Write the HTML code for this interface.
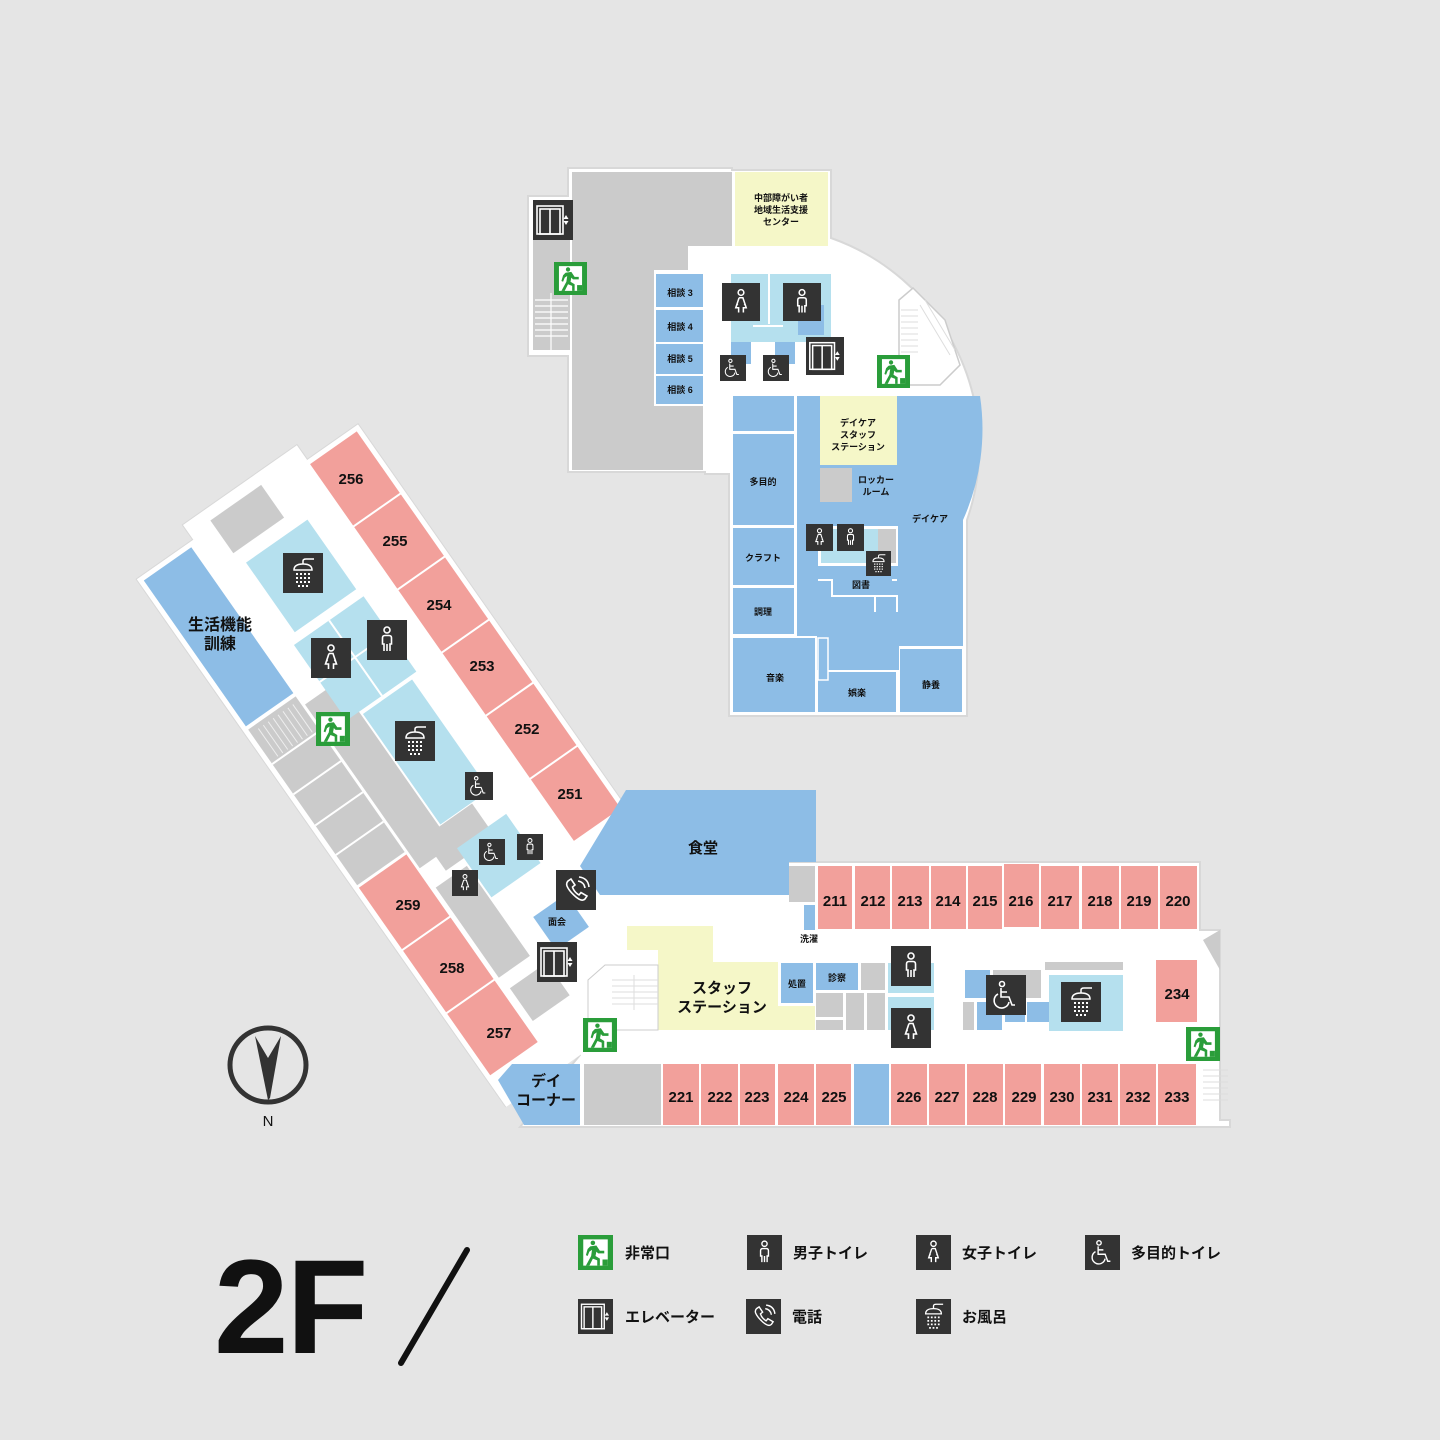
<!DOCTYPE html>
<html><head><meta charset="utf-8"><style>
html,body{margin:0;padding:0;background:#e5e5e5}
svg{display:block}
text{font-family:"Liberation Sans","Noto Sans CJK JP",sans-serif;font-weight:bold;fill:#111}
.n{font-size:15px;text-anchor:middle}
.s{font-size:9px;text-anchor:middle}
.l{font-size:15px}
</style></head><body>
<svg width="1440" height="1440" viewBox="0 0 1440 1440" xmlns="http://www.w3.org/2000/svg">
<defs>
<symbol id="m" viewBox="0 0 40 40"><rect width="40" height="40" fill="#333"/><g fill="none" stroke="#fff" stroke-width="1.6"><circle cx="20" cy="10" r="3"/><path d="M17 31V24H15.5V18Q15.5 15.5 18 15.5H22Q24.5 15.5 24.5 18V24H23V31M20 24V31"/></g></symbol>
<symbol id="w" viewBox="0 0 40 40"><rect width="40" height="40" fill="#333"/><g fill="none" stroke="#fff" stroke-width="1.6"><circle cx="20" cy="10" r="3"/><path d="M18 15.5H22L25.5 26H22.5V31M17.5 31V26H14.5L18 15.5M16.5 22L15 24M23.5 22L25 24"/></g></symbol>
<symbol id="wc" viewBox="0 0 40 40"><rect width="40" height="40" fill="#333"/><g fill="none" stroke="#fff" stroke-width="1.6"><circle cx="16" cy="9" r="2.5"/><path d="M15 13V22H23L26 30H29M15 17H21"/><path d="M12 19A7.5 7.5 0 1 0 23 27"/></g></symbol>
<symbol id="sh" viewBox="0 0 40 40"><rect width="40" height="40" fill="#333"/><g fill="none" stroke="#fff" stroke-width="1.5"><path d="M11 17Q11 11 20 11Q29 11 29 17Z"/><path d="M20 11V8Q20 6 23 6H31"/></g><g fill="#fff"><rect x="13" y="20" width="2" height="2"/><rect x="17" y="20" width="2" height="2"/><rect x="21" y="20" width="2" height="2"/><rect x="25" y="20" width="2" height="2"/><rect x="13" y="24" width="2" height="2"/><rect x="17" y="24" width="2" height="2"/><rect x="21" y="24" width="2" height="2"/><rect x="25" y="24" width="2" height="2"/><rect x="13" y="28" width="2" height="2"/><rect x="17" y="28" width="2" height="2"/><rect x="21" y="28" width="2" height="2"/><rect x="25" y="28" width="2" height="2"/><rect x="15" y="32" width="2" height="2"/><rect x="19" y="32" width="2" height="2"/><rect x="23" y="32" width="2" height="2"/></g></symbol>
<symbol id="el" viewBox="0 0 40 40"><rect width="40" height="40" fill="#333"/><g fill="none" stroke="#fff" stroke-width="1.6"><rect x="4" y="6" width="26" height="28"/><rect x="7" y="9" width="20" height="25"/><path d="M17 9V34"/></g><path d="M33 15L35.5 19H30.5ZM33 25L35.5 21H30.5Z" fill="#fff"/></symbol>
<symbol id="tel" viewBox="0 0 40 40"><rect width="40" height="40" fill="#333"/><g fill="none" stroke="#fff" stroke-width="1.6"><path d="M12 11L15 9L19 15L16.5 17Q18 22 23 25L25 22.5L31 26L29 29Q26 32 20 27Q13 21 11 16Q10 13 12 11Z"/><path d="M22 11Q28 12 29 18M23 7Q32 8 33 17"/></g></symbol>
<symbol id="ex" viewBox="0 0 40 40"><rect width="40" height="40" fill="#2a9d3a"/><rect x="6" y="5" width="28" height="30" fill="#fff"/><g fill="#2a9d3a"><circle cx="17" cy="9" r="2.6"/><path d="M14 13L21 12L25 18L30 18L30 21L23 21L21 19L20 24L25 27L25 35L22 35L22 29L17 27L13 35L9 35L15 24L16 17L13 19L11 24L9 23L11 16Z"/><rect x="28" y="28" width="6" height="7"/></g></symbol>
<clipPath id="cw"><rect x="0" y="0" width="1440" height="1128"/></clipPath>
</defs>

<rect width="1440" height="1440" fill="#e5e5e5"/>

<!-- ===== TOP BUILDING ===== -->
<path d="M568 168H732V170H831V238 A222 222 0 0 1 967 520V716H729V474H705V472H568V356H528V196H568Z" fill="#fff" stroke="#d8d8d8" stroke-width="2"/>
<path d="M572 172H732V246H688V270H654V404H703V470H572Z" fill="#cbcbcb"/>
<rect x="533" y="240" width="37" height="110" fill="#cbcbcb"/>
<g stroke="#fff" stroke-width="1.2"><path d="M535 300H568M535 306H568M535 312H568M535 318H568M535 324H568M535 330H568M535 336H568M551 293V350"/></g>
<rect x="735" y="172" width="93" height="74" fill="#f5f7c8"/>
<text class="s" x="781" y="201">中部障がい者</text><text class="s" x="781" y="213">地域生活支援</text><text class="s" x="781" y="225">センター</text>
<rect x="654" y="272" width="51" height="134" fill="#fff"/>
<g fill="#8dbde6"><rect x="656" y="274" width="47" height="33"/><rect x="656" y="310" width="47" height="32"/><rect x="656" y="344" width="47" height="30"/><rect x="656" y="376" width="47" height="28"/></g>
<text class="s" x="680" y="296">相談 3</text><text class="s" x="680" y="330">相談 4</text><text class="s" x="680" y="362">相談 5</text><text class="s" x="680" y="393">相談 6</text>
<rect x="731" y="274" width="100" height="68" fill="#b5e0ee"/>
<rect x="768" y="274" width="2" height="50" fill="#fff"/><rect x="753" y="325" width="30" height="2" fill="#fff"/>
<g fill="#8dbde6"><rect x="731" y="342" width="20" height="22"/><rect x="775" y="342" width="20" height="22"/><rect x="798" y="305" width="26" height="30"/></g>
<path d="M899 385V300L913 288L945 320L960 365L940 385Z" fill="#fff" stroke="#ccc" stroke-width="1.5"/>
<g stroke="#ddd" stroke-width="1"><path d="M901 310H918M901 316H918M901 322H918M901 328H918M901 334H918M901 340H918M901 346H918M901 352H918M920 305L950 355M925 300L955 350"/></g>
<!-- daycare -->
<path d="M797 396H980 A222 222 0 0 1 963 520V646H899V670H817V636H797Z" fill="#8dbde6"/>
<g fill="#8dbde6"><rect x="733" y="396" width="61" height="35"/><rect x="733" y="434" width="61" height="91"/><rect x="733" y="528" width="61" height="57"/><rect x="733" y="588" width="61" height="46"/><rect x="733" y="638" width="82" height="74"/><rect x="818" y="672" width="78" height="40"/><rect x="900" y="649" width="62" height="63"/></g>
<rect x="818" y="638" width="10" height="42" fill="#8dbde6" stroke="#fff" stroke-width="1.5"/>
<rect x="820" y="396" width="77" height="69" fill="#f5f7c8"/>
<text class="s" x="858" y="426">デイケア</text><text class="s" x="858" y="438">スタッフ</text><text class="s" x="858" y="450">ステーション</text>
<rect x="820" y="468" width="32" height="34" fill="#cbcbcb"/><rect x="855" y="468" width="42" height="34" fill="#8dbde6"/>
<text class="s" x="876" y="483">ロッカー</text><text class="s" x="876" y="495">ルーム</text>
<rect x="818" y="526" width="80" height="40" fill="#fff"/><rect x="821" y="529" width="75" height="34" fill="#b5e0ee"/><rect x="878" y="529" width="18" height="34" fill="#cbcbcb"/>
<path d="M818 580H832V596H897V612M897 580H892M875 596V612" fill="none" stroke="#fff" stroke-width="2"/>
<text class="s" x="763" y="485">多目的</text><text class="s" x="763" y="561">クラフト</text><text class="s" x="763" y="615">調理</text><text class="s" x="775" y="681">音楽</text><text class="s" x="857" y="696">娯楽</text><text class="s" x="931" y="688">静養</text><text class="s" x="930" y="522">デイケア</text><text class="s" x="861" y="588">図書</text>

<!-- ===== HORIZONTAL WING ===== -->
<path d="M520 1127L580 1055V860H786V862H1200V930H1220V1120H1230V1127Z" fill="#fff" stroke="#d8d8d8" stroke-width="2"/>
<!-- ===== DIAGONAL WING ===== -->
<g clip-path="url(#cw)">
<g transform="translate(357,430) rotate(55)">
<path d="M470 -4H-4V58H-22V197H-4V266H640" fill="#fff" stroke="#d8d8d8" stroke-width="2"/>
<path d="M-4 -4H640V266H-4Z" fill="#fff"/>
<path d="M-4 58H-22V197H-4Z" fill="#fff"/>
<g fill="#f2a09b"><rect x="1" y="1" width="75" height="57"/><rect x="78" y="1" width="75" height="57"/><rect x="155" y="1" width="75" height="57"/><rect x="232" y="1" width="75" height="57"/><rect x="309" y="1" width="75" height="57"/><rect x="386" y="1" width="75" height="57"/>
<rect x="376" y="203" width="75" height="58"/><rect x="453" y="203" width="75" height="58"/><rect x="530" y="203" width="75" height="58"/></g>
<rect x="1" y="203" width="178" height="58" fill="#8dbde6"/>
<rect x="183" y="203" width="190" height="58" fill="#cbcbcb"/>
<g stroke="#fff" stroke-width="2"><path d="M225 203V261M262 203V261M300 203V261M336 203V261"/></g>
<g stroke="#eee" stroke-width="1"><path d="M188 210H222M188 216H222M188 222H222M188 228H222M188 234H222M188 240H222M188 246H222M188 252H222"/></g>
<rect x="195" y="160" width="200" height="40" fill="#cbcbcb"/>
<rect x="-10" y="110" width="40" height="62" fill="#cbcbcb"/>
<rect x="45" y="92" width="85" height="75" fill="#b5e0ee"/>
<rect x="140" y="90" width="92" height="85" fill="#b5e0ee"/>
<path d="M185 90V175M140 132H232" stroke="#fff" stroke-width="2"/>
<rect x="236" y="98" width="135" height="60" fill="#b5e0ee"/>
<rect x="372" y="120" width="40" height="60" fill="#cbcbcb"/>
<rect x="400" y="98" width="60" height="60" fill="#b5e0ee"/>
<rect x="420" y="160" width="110" height="38" fill="#cbcbcb"/>
<rect x="500" y="95" width="40" height="40" fill="#8dbde6"/>
<rect x="545" y="150" width="40" height="45" fill="#cbcbcb"/>
</g></g>
<text class="n" x="220" y="630" style="font-size:16px">生活機能</text><text class="n" x="220" y="649" style="font-size:16px">訓練</text>
<text class="s" x="557" y="925">面会</text>

<!-- dining -->
<path d="M626 790H816V862H789V895H600L580 866Z" fill="#8dbde6"/>
<text class="n" x="703" y="853">食堂</text>

<!-- top rooms -->
<rect x="789" y="866" width="26" height="36" fill="#cbcbcb"/>
<rect x="804" y="905" width="11" height="25" fill="#8dbde6"/>
<g fill="#f2a09b"><rect x="818" y="866" width="34" height="63"/><rect x="855" y="866" width="35" height="63"/><rect x="892" y="866" width="37" height="63"/><rect x="931" y="866" width="35" height="63"/><rect x="968" y="866" width="34" height="63"/><rect x="1004" y="864" width="35" height="63"/><rect x="1041" y="866" width="38" height="63"/><rect x="1082" y="866" width="37" height="63"/><rect x="1121" y="866" width="37" height="63"/><rect x="1160" y="866" width="37" height="63"/>
<rect x="1156" y="960" width="41" height="62"/>
<rect x="663" y="1064" width="36" height="61"/><rect x="701" y="1064" width="37" height="61"/><rect x="740" y="1064" width="35" height="61"/><rect x="778" y="1064" width="36" height="61"/><rect x="816" y="1064" width="35" height="61"/><rect x="891" y="1064" width="36" height="61"/><rect x="929" y="1064" width="36" height="61"/><rect x="967" y="1064" width="36" height="61"/><rect x="1005" y="1064" width="36" height="61"/><rect x="1044" y="1064" width="36" height="61"/><rect x="1082" y="1064" width="36" height="61"/><rect x="1120" y="1064" width="36" height="61"/><rect x="1158" y="1064" width="38" height="61"/></g>
<rect x="854" y="1064" width="35" height="61" fill="#8dbde6"/>
<rect x="584" y="1064" width="77" height="61" fill="#cbcbcb"/>
<path d="M512 1064H580V1125H524L498 1080Z" fill="#8dbde6"/>
<text class="n" x="546" y="1086">デイ</text><text class="n" x="546" y="1105">コーナー</text>
<path d="M1203 940L1220 930V970Z" fill="#cbcbcb"/>
<!-- center block -->
<path d="M627 926H713V962H778V1006H815V1030H658V950H627Z" fill="#f5f7c8"/>
<path d="M588 1030V980L605 965H658V1030Z" fill="#fff" stroke="#ccc" stroke-width="1"/>
<g stroke="#ddd" stroke-width="1"><path d="M612 980H658M612 986H658M612 992H658M612 998H658M612 1004H658M634 975V1010"/></g>
<text class="n" x="722" y="993">スタッフ</text><text class="n" x="722" y="1012">ステーション</text>
<rect x="781" y="963" width="32" height="40" fill="#8dbde6"/><text class="s" x="797" y="987">処置</text>
<rect x="816" y="963" width="42" height="27" fill="#8dbde6"/><text class="s" x="837" y="981">診察</text>
<g fill="#cbcbcb"><rect x="861" y="963" width="24" height="27"/><rect x="816" y="993" width="27" height="24"/><rect x="846" y="993" width="18" height="37"/><rect x="867" y="993" width="18" height="37"/><rect x="816" y="1020" width="27" height="10"/></g>
<rect x="888" y="963" width="46" height="30" fill="#b5e0ee"/><rect x="888" y="997" width="46" height="33" fill="#b5e0ee"/>
<rect x="965" y="970" width="25" height="28" fill="#8dbde6"/><rect x="993" y="970" width="48" height="28" fill="#cbcbcb"/>
<rect x="963" y="1002" width="11" height="28" fill="#cbcbcb"/><rect x="977" y="1002" width="25" height="28" fill="#8dbde6"/><rect x="1005" y="1002" width="20" height="20" fill="#8dbde6"/><rect x="1027" y="1002" width="22" height="20" fill="#8dbde6"/>
<rect x="1045" y="962" width="78" height="8" fill="#cbcbcb"/>
<rect x="1049" y="975" width="74" height="56" fill="#b5e0ee"/>
<text class="s" x="809" y="942">洗濯</text>
<g stroke="#ddd" stroke-width="1"><path d="M1203 1070H1228M1203 1076H1228M1203 1082H1228M1203 1088H1228M1203 1094H1228M1203 1100H1228"/></g>

<!-- room numbers -->
<text class="n" x="351" y="484">256</text><text class="n" x="395" y="546">255</text><text class="n" x="439" y="610">254</text><text class="n" x="482" y="671">253</text><text class="n" x="527" y="734">252</text><text class="n" x="570" y="799">251</text>
<text class="n" x="408" y="910">259</text><text class="n" x="452" y="973">258</text><text class="n" x="499" y="1038">257</text>
<text class="n" x="835" y="906">211</text><text class="n" x="873" y="906">212</text><text class="n" x="910" y="906">213</text><text class="n" x="948" y="906">214</text><text class="n" x="985" y="906">215</text><text class="n" x="1021" y="906">216</text><text class="n" x="1060" y="906">217</text><text class="n" x="1100" y="906">218</text><text class="n" x="1139" y="906">219</text><text class="n" x="1178" y="906">220</text>
<text class="n" x="1177" y="999">234</text>
<text class="n" x="681" y="1102">221</text><text class="n" x="720" y="1102">222</text><text class="n" x="757" y="1102">223</text><text class="n" x="796" y="1102">224</text><text class="n" x="834" y="1102">225</text><text class="n" x="909" y="1102">226</text><text class="n" x="947" y="1102">227</text><text class="n" x="985" y="1102">228</text><text class="n" x="1024" y="1102">229</text><text class="n" x="1062" y="1102">230</text><text class="n" x="1100" y="1102">231</text><text class="n" x="1138" y="1102">232</text><text class="n" x="1177" y="1102">233</text>

<!-- icons -->
<use href="#el" x="533" y="200" width="40" height="40"/>
<use href="#ex" x="554" y="262" width="33" height="33"/>
<use href="#w" x="722" y="283" width="38" height="38"/>
<use href="#m" x="783" y="283" width="38" height="38"/>
<use href="#wc" x="720" y="355" width="26" height="26"/>
<use href="#wc" x="763" y="355" width="26" height="26"/>
<use href="#el" x="806" y="337" width="38" height="38"/>
<use href="#ex" x="877" y="355" width="33" height="33"/>
<use href="#w" x="806" y="524" width="27" height="27"/>
<use href="#m" x="837" y="524" width="27" height="27"/>
<use href="#sh" x="866" y="551" width="25" height="25"/>
<use href="#sh" x="283" y="553" width="40" height="40"/>
<use href="#w" x="311" y="638" width="40" height="40"/>
<use href="#m" x="367" y="620" width="40" height="40"/>
<use href="#ex" x="316" y="712" width="34" height="34"/>
<use href="#sh" x="395" y="721" width="40" height="40"/>
<use href="#wc" x="465" y="772" width="28" height="28"/>
<use href="#wc" x="479" y="839" width="26" height="26"/>
<use href="#m" x="517" y="834" width="26" height="26"/>
<use href="#w" x="452" y="870" width="26" height="26"/>
<use href="#tel" x="556" y="870" width="40" height="40"/>
<use href="#el" x="537" y="942" width="40" height="40"/>
<use href="#ex" x="583" y="1018" width="34" height="34"/>
<use href="#m" x="891" y="946" width="40" height="40"/>
<use href="#w" x="891" y="1008" width="40" height="40"/>
<use href="#wc" x="986" y="975" width="40" height="40"/>
<use href="#sh" x="1061" y="982" width="40" height="40"/>
<use href="#ex" x="1186" y="1027" width="34" height="34"/>

<!-- compass -->
<ellipse cx="268" cy="1065" rx="38" ry="37" fill="none" stroke="#333" stroke-width="5"/>
<path d="M255 1036L268 1058L281 1036L270 1098L268 1100Z" fill="#333"/>
<text class="n" x="268" y="1126" style="font-size:15px;font-weight:normal">N</text>

<!-- title -->
<text x="214" y="1353" style="font-size:134px;font-weight:bold;letter-spacing:-2px">2F</text>
<line x1="467" y1="1250" x2="401" y2="1363" stroke="#111" stroke-width="6" stroke-linecap="round"/>

<!-- legend -->
<use href="#ex" x="578" y="1235" width="35" height="35"/><text class="l" x="625" y="1258">非常口</text>
<use href="#m" x="747" y="1235" width="35" height="35"/><text class="l" x="793" y="1258">男子トイレ</text>
<use href="#w" x="916" y="1235" width="35" height="35"/><text class="l" x="962" y="1258">女子トイレ</text>
<use href="#wc" x="1085" y="1235" width="35" height="35"/><text class="l" x="1131" y="1258">多目的トイレ</text>
<use href="#el" x="578" y="1299" width="35" height="35"/><text class="l" x="625" y="1322">エレベーター</text>
<use href="#tel" x="746" y="1299" width="35" height="35"/><text class="l" x="792" y="1322">電話</text>
<use href="#sh" x="916" y="1299" width="35" height="35"/><text class="l" x="962" y="1322">お風呂</text>
</svg>
</body></html>
